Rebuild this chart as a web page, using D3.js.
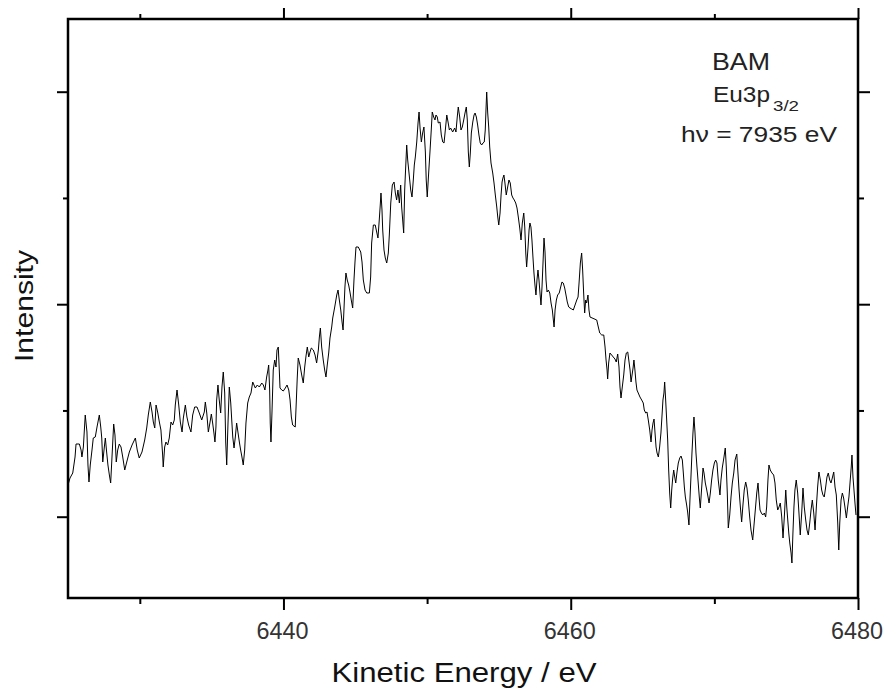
<!DOCTYPE html>
<html>
<head>
<meta charset="utf-8">
<script src="https://cdn.jsdelivr.net/npm/d3@7"></script>
<style>
  body { margin: 0; background: #fff; }
  text { font-family: "Liberation Sans", Arial, sans-serif; }
</style>
</head>
<body>
<div id="chart-area"></div>
<script>
// Eu3p3/2 HAXPES spectrum of BAM (energy in eV, intensity in arbitrary units)
const energy = [
  6425.00, 6425.14, 6425.33, 6425.49, 6425.56, 6425.79, 6425.91, 6425.97, 6426.07, 6426.20,
  6426.32, 6426.39, 6426.46, 6426.55, 6426.67, 6426.76, 6426.90, 6427.02, 6427.18, 6427.28,
  6427.35, 6427.42, 6427.53, 6427.60, 6427.69, 6427.78, 6427.88, 6427.97, 6428.06, 6428.18,
  6428.27, 6428.36, 6428.46, 6428.57, 6428.69, 6428.81, 6428.95, 6429.09, 6429.27, 6429.46,
  6429.69, 6429.82, 6429.96, 6430.15, 6430.34, 6430.48, 6430.59, 6430.73, 6430.85, 6430.94,
  6431.04, 6431.13, 6431.24, 6431.36, 6431.47, 6431.59, 6431.63, 6431.73, 6431.82, 6431.94,
  6432.05, 6432.17, 6432.29, 6432.40, 6432.47, 6432.59, 6432.71, 6432.82, 6432.94, 6433.03,
  6433.17, 6433.28, 6433.40, 6433.56, 6433.68, 6433.82, 6433.98, 6434.14, 6434.31, 6434.49,
  6434.56, 6434.66, 6434.77, 6434.89, 6434.98, 6435.07, 6435.16, 6435.23, 6435.30, 6435.35,
  6435.44, 6435.53, 6435.63, 6435.72, 6435.81, 6435.91, 6435.98, 6436.05, 6436.14, 6436.23,
  6436.33, 6436.40, 6436.47, 6436.56, 6436.65, 6436.74, 6436.84, 6436.93, 6437.02, 6437.11,
  6437.20, 6437.30, 6437.39, 6437.51, 6437.62, 6437.74, 6437.86, 6437.95, 6438.04, 6438.18,
  6438.32, 6438.49, 6438.60, 6438.71, 6438.83, 6438.92, 6438.97, 6439.04, 6439.08, 6439.13,
  6439.20, 6439.29, 6439.39, 6439.48, 6439.55, 6439.64, 6439.71, 6439.76, 6439.88, 6439.99,
  6440.13, 6440.25, 6440.37, 6440.46, 6440.55, 6440.64, 6440.82, 6440.89, 6440.96, 6441.03,
  6441.15, 6441.27, 6441.38, 6441.48, 6441.57, 6441.66, 6441.76, 6441.85, 6441.94, 6442.08,
  6442.20, 6442.31, 6442.43, 6442.50, 6442.57, 6442.66, 6442.77, 6442.87, 6442.96, 6443.05,
  6443.15, 6443.24, 6443.36, 6443.43, 6443.57, 6443.71, 6443.80, 6443.89, 6443.99, 6444.08,
  6444.15, 6444.22, 6444.28, 6444.35, 6444.44, 6444.54, 6444.63, 6444.72, 6444.82, 6444.91,
  6444.98, 6445.05, 6445.21, 6445.38, 6445.47, 6445.56, 6445.68, 6445.80, 6445.98, 6446.07,
  6446.14, 6446.26, 6446.39, 6446.49, 6446.58, 6446.67, 6446.74, 6446.79, 6446.86, 6446.91,
  6447.00, 6447.09, 6447.19, 6447.30, 6447.37, 6447.47, 6447.58, 6447.70, 6447.79, 6447.88,
  6447.97, 6448.07, 6448.16, 6448.23, 6448.30, 6448.37, 6448.44, 6448.51, 6448.58, 6448.65,
  6448.72, 6448.79, 6448.86, 6448.95, 6449.04, 6449.11, 6449.18, 6449.28, 6449.37, 6449.44,
  6449.51, 6449.60, 6449.69, 6449.78, 6449.88, 6449.94, 6450.01, 6450.11, 6450.20, 6450.29,
  6450.36, 6450.46, 6450.55, 6450.62, 6450.71, 6450.78, 6450.90, 6450.99, 6451.09, 6451.18,
  6451.27, 6451.37, 6451.46, 6451.55, 6451.64, 6451.78, 6451.92, 6452.01, 6452.10, 6452.17,
  6452.27, 6452.36, 6452.45, 6452.55, 6452.64, 6452.73, 6452.80, 6452.87, 6452.94, 6453.01,
  6453.08, 6453.18, 6453.27, 6453.34, 6453.43, 6453.52, 6453.61, 6453.70, 6453.80, 6453.89,
  6453.98, 6454.05, 6454.10, 6454.15, 6454.22, 6454.29, 6454.36, 6454.45, 6454.57, 6454.66,
  6454.75, 6454.85, 6454.92, 6454.99, 6455.08, 6455.15, 6455.22, 6455.28, 6455.35, 6455.42,
  6455.51, 6455.61, 6455.70, 6455.79, 6455.89, 6455.98, 6456.07, 6456.17, 6456.26, 6456.35,
  6456.45, 6456.54, 6456.63, 6456.73, 6456.80, 6456.87, 6456.93, 6457.03, 6457.10, 6457.16,
  6457.23, 6457.30, 6457.37, 6457.44, 6457.51, 6457.58, 6457.65, 6457.72, 6457.79, 6457.86,
  6457.93, 6458.00, 6458.07, 6458.14, 6458.21, 6458.28, 6458.35, 6458.44, 6458.54, 6458.63,
  6458.72, 6458.79, 6458.84, 6458.91, 6459.00, 6459.09, 6459.20, 6459.30, 6459.39, 6459.48,
  6459.58, 6459.67, 6459.76, 6459.86, 6459.95, 6460.07, 6460.18, 6460.30, 6460.42, 6460.51,
  6460.58, 6460.67, 6460.76, 6460.83, 6460.90, 6460.97, 6461.04, 6461.11, 6461.20, 6461.27,
  6461.34, 6461.81, 6461.92, 6462.02, 6462.16, 6462.30, 6462.39, 6462.46, 6462.53, 6462.57,
  6462.64, 6462.73, 6462.85, 6462.96, 6463.08, 6463.17, 6463.27, 6463.36, 6463.43, 6463.50,
  6463.59, 6463.69, 6463.78, 6463.87, 6463.97, 6464.06, 6464.13, 6464.20, 6464.27, 6464.34,
  6464.40, 6464.47, 6464.54, 6464.61, 6464.70, 6464.82, 6464.94, 6465.05, 6465.12, 6465.22,
  6465.31, 6465.40, 6465.50, 6465.59, 6465.66, 6465.73, 6465.80, 6465.87, 6465.94, 6466.01,
  6466.10, 6466.19, 6466.28, 6466.35, 6466.42, 6466.49, 6466.54, 6466.61, 6466.68, 6466.75,
  6466.82, 6466.89, 6466.96, 6467.03, 6467.10, 6467.17, 6467.24, 6467.31, 6467.40, 6467.49,
  6467.59, 6467.68, 6467.77, 6467.84, 6467.91, 6467.98, 6468.07, 6468.14, 6468.23, 6468.30,
  6468.37, 6468.44, 6468.51, 6468.58, 6468.65, 6468.72, 6468.79, 6468.86, 6468.95, 6469.02,
  6469.12, 6469.21, 6469.28, 6469.37, 6469.47, 6469.56, 6469.63, 6469.72, 6469.81, 6469.90,
  6470.00, 6470.09, 6470.18, 6470.27, 6470.39, 6470.46, 6470.55, 6470.67, 6470.76, 6470.83,
  6470.90, 6470.97, 6471.07, 6471.16, 6471.25, 6471.35, 6471.44, 6471.56, 6471.63, 6471.72,
  6471.81, 6471.90, 6471.99, 6472.08, 6472.18, 6472.27, 6472.36, 6472.46, 6472.55, 6472.67,
  6472.76, 6472.85, 6472.95, 6473.04, 6473.11, 6473.18, 6473.27, 6473.37, 6473.48, 6473.57,
  6473.64, 6473.73, 6473.80, 6473.89, 6474.01, 6474.13, 6474.22, 6474.31, 6474.41, 6474.50,
  6474.59, 6474.69, 6474.78, 6474.87, 6474.97, 6475.04, 6475.11, 6475.18, 6475.25, 6475.34,
  6475.40, 6475.47, 6475.54, 6475.61, 6475.70, 6475.80, 6475.89, 6475.98, 6476.08, 6476.17,
  6476.26, 6476.36, 6476.45, 6476.54, 6476.64, 6476.73, 6476.82, 6476.92, 6477.01, 6477.10,
  6477.19, 6477.28, 6477.38, 6477.47, 6477.56, 6477.65, 6477.75, 6477.84, 6477.93, 6478.03,
  6478.12, 6478.21, 6478.31, 6478.40, 6478.49, 6478.59, 6478.66, 6478.73, 6478.82, 6478.91,
  6479.00, 6479.09, 6479.19, 6479.28, 6479.37, 6479.46, 6479.53, 6479.58, 6479.65, 6479.72,
  6479.79, 6479.86
]

const intensity = [
  115, 122, 127, 143, 156, 156, 150, 143, 153, 185,
  168, 135, 118, 135, 150, 162, 163, 173, 185, 173,
  162, 138, 153, 162, 148, 135, 125, 117, 142, 176,
  165, 138, 150, 156, 153, 143, 130, 138, 148, 155,
  162, 150, 142, 148, 160, 172, 185, 198, 188, 178,
  172, 195, 188, 178, 170, 145, 133, 153, 158, 155,
  162, 178, 175, 180, 195, 210, 195, 178, 168, 182,
  195, 183, 175, 168, 185, 193, 193, 187, 180, 188,
  198, 187, 168, 178, 186, 177, 167, 158, 173, 200,
  215, 200, 187, 213, 228, 207, 158, 135, 177, 213,
  197, 180, 163, 152, 163, 177, 167, 158, 150, 143,
  135, 150, 177, 197, 203, 207, 218, 215, 212, 215,
  213, 217, 215, 210, 223, 230, 235, 210, 177, 158,
  187, 230, 240, 233, 250, 253, 230, 212, 210, 209,
  212, 215, 210, 200, 183, 175, 173, 197, 222, 242,
  235, 225, 217, 233, 244, 253, 243, 248, 252, 250,
  245, 237, 250, 263, 272, 253, 240, 230, 223, 235,
  247, 262, 273, 282, 293, 305, 310, 300, 290, 278,
  270, 293, 313, 327, 320, 315, 308, 300, 292, 320,
  338, 353, 353, 348, 338, 320, 310, 307, 307, 323,
  357, 375, 375, 368, 362, 380, 395, 407, 390, 370,
  350, 342, 337, 347, 365, 397, 415, 418, 407, 400,
  410, 397, 415, 393, 380, 367, 410, 433, 455, 440,
  430, 420, 410, 403, 420, 435, 443, 458, 477, 488,
  472, 458, 467, 473, 448, 420, 403, 427, 448, 470,
  488, 483, 480, 485, 483, 477, 478, 465, 458, 457,
  470, 485, 478, 470, 472, 468, 472, 468, 483, 493,
  483, 470, 473, 480, 487, 493, 480, 448, 433, 447,
  467, 478, 485, 487, 483, 475, 465, 457, 455, 457,
  458, 470, 490, 508, 487, 473, 453, 437, 427, 417,
  405, 393, 383, 375, 387, 405, 418, 422, 425, 417,
  405, 413, 420, 417, 405, 402, 400, 397, 392, 383,
  372, 360, 377, 387, 373, 347, 333, 353, 370, 377,
  373, 360, 343, 327, 315, 305, 320, 330, 320, 307,
  295, 313, 337, 362, 348, 320, 308, 310, 307, 297,
  290, 280, 273, 290, 300, 305, 307, 313, 318, 317,
  312, 305, 298, 293, 292, 291, 290, 295, 300, 303,
  317, 337, 347, 330, 307, 287, 300, 297, 305, 290,
  283, 280, 273, 267, 265, 265, 253, 240, 230, 221,
  237, 247, 245, 243, 241, 238, 246, 233, 213, 202,
  213, 225, 240, 247, 248, 238, 230, 218, 225, 232,
  240, 230, 218, 210, 207, 203, 200, 197, 190, 187,
  188, 180, 170, 158, 170, 177, 181, 167, 153, 147,
  143, 153, 167, 183, 200, 207, 218, 200, 180, 160,
  130, 107, 92, 110, 122, 130, 123, 117, 128, 137,
  142, 144, 140, 127, 113, 103, 95, 88, 75, 100,
  123, 147, 167, 183, 168, 147, 133, 120, 103, 92,
  113, 132, 127, 117, 110, 103, 97, 107, 120, 130,
  137, 140, 137, 120, 105, 120, 132, 143, 152, 133,
  107, 72, 85, 103, 117, 127, 140, 146, 130, 110,
  93, 78, 95, 110, 118, 112, 100, 83, 70, 60,
  75, 90, 107, 117, 102, 90, 87, 85, 87, 83,
  93, 120, 135, 130, 127, 125, 117, 100, 90, 93,
  97, 83, 62, 83, 110, 93, 80, 67, 57, 47,
  37, 67, 93, 110, 120, 107, 87, 65, 87, 112,
  93, 80, 70, 65, 77, 90, 100, 87, 70, 93,
  113, 128, 120, 110, 105, 103, 113, 123, 127, 120,
  117, 122, 128, 113, 105, 77, 50, 77, 100, 107,
  102, 93, 82, 93, 103, 120, 133, 145, 123, 110,
  97, 85
]

// axis ticks
const xMajorTicks = [6440, 6460, 6480]
const xMinorTicks = [6430, 6450, 6470]
const yMajorTicks = [83.3, 295.8, 508.3]
const yMinorTicks = [189.55, 402.05]

const spectrum = energy.map((e, i) => ({ e: e, v: intensity[i] }))

const width = 888
const height = 693
const plotLeft = 68, plotRight = 858, plotTop = 19, plotBottom = 598

const svg = d3.select("#chart-area").append("svg")
    .attr("width", width)
    .attr("height", height)

const x = d3.scaleLinear().domain([6425, 6480]).range([plotLeft, plotRight])
const y = d3.scaleLinear().domain([2, 581]).range([plotBottom, plotTop])

svg.append("clipPath")
    .attr("id", "plot-clip")
  .append("rect")
    .attr("x", plotLeft)
    .attr("y", plotTop)
    .attr("width", plotRight - plotLeft)
    .attr("height", plotBottom - plotTop)

// spectrum line
const line = d3.line()
    .x(d => x(d.e))
    .y(d => y(d.v))

svg.append("path")
    .datum(spectrum)
    .attr("clip-path", "url(#plot-clip)")
    .attr("fill", "none")
    .attr("stroke", "#000")
    .attr("stroke-width", 1)
    .attr("d", line)

// ticks on all four sides, pointing outward
function tickAxis(axisFn, scale, values, size, pos, isX) {
  const g = svg.append("g")
      .attr("transform", isX ? `translate(0,${pos})` : `translate(${pos},0)`)
      .call(axisFn(scale).tickValues(values).tickSize(size).tickFormat(""))
  g.select(".domain").remove()
  g.selectAll(".tick line").attr("stroke", "#000").attr("stroke-width", 2)
  return g
}

tickAxis(d3.axisBottom, x, xMajorTicks, 12, plotBottom, true)
tickAxis(d3.axisBottom, x, xMinorTicks, 6, plotBottom, true)
tickAxis(d3.axisTop, x, xMajorTicks, 11, plotTop, true)
tickAxis(d3.axisTop, x, xMinorTicks, 5, plotTop, true)
tickAxis(d3.axisLeft, y, yMajorTicks, 11, plotLeft, false)
tickAxis(d3.axisLeft, y, yMinorTicks, 5, plotLeft, false)
tickAxis(d3.axisRight, y, yMajorTicks, 12, plotRight, false)
tickAxis(d3.axisRight, y, yMinorTicks, 6, plotRight, false)

// x tick labels
svg.append("g")
    .selectAll("text")
    .data(xMajorTicks)
    .join("text")
    .attr("x", d => x(d) - 1)
    .attr("y", 639)
    .attr("text-anchor", "middle")
    .attr("font-size", 23)
    .attr("fill", "#333")
    .attr("textLength", 52)
    .attr("lengthAdjust", "spacingAndGlyphs")
    .text(d => d)

// frame
svg.append("rect")
    .attr("x", plotLeft)
    .attr("y", plotTop)
    .attr("width", plotRight - plotLeft)
    .attr("height", plotBottom - plotTop)
    .attr("fill", "none")
    .attr("stroke", "#000")
    .attr("stroke-width", 2.5)

// axis titles
svg.append("text")
    .attr("x", 464)
    .attr("y", 682)
    .attr("text-anchor", "middle")
    .attr("font-size", 27)
    .attr("fill", "#111")
    .attr("textLength", 265)
    .attr("lengthAdjust", "spacingAndGlyphs")
    .text("Kinetic Energy / eV")

svg.append("text")
    .attr("transform", "translate(33,306) rotate(-90)")
    .attr("text-anchor", "middle")
    .attr("font-size", 26)
    .attr("fill", "#111")
    .attr("textLength", 112)
    .attr("lengthAdjust", "spacingAndGlyphs")
    .text("Intensity")

// annotation
svg.append("text")
    .attr("x", 741)
    .attr("y", 70)
    .attr("text-anchor", "middle")
    .attr("font-size", 23)
    .attr("fill", "#222")
    .attr("textLength", 58)
    .attr("lengthAdjust", "spacingAndGlyphs")
    .text("BAM")

svg.append("text")
    .attr("x", 713)
    .attr("y", 102)
    .attr("font-size", 22)
    .attr("fill", "#222")
    .attr("textLength", 57)
    .attr("lengthAdjust", "spacingAndGlyphs")
    .text("Eu3p")

svg.append("text")
    .attr("x", 773)
    .attr("y", 111)
    .attr("font-size", 15)
    .attr("fill", "#222")
    .attr("textLength", 26)
    .attr("lengthAdjust", "spacingAndGlyphs")
    .text("3/2")

svg.append("text")
    .attr("x", 681)
    .attr("y", 142)
    .attr("font-size", 22)
    .attr("fill", "#222")
    .attr("textLength", 156)
    .attr("lengthAdjust", "spacingAndGlyphs")
    .text("hν = 7935 eV")
</script>
</body>
</html>
